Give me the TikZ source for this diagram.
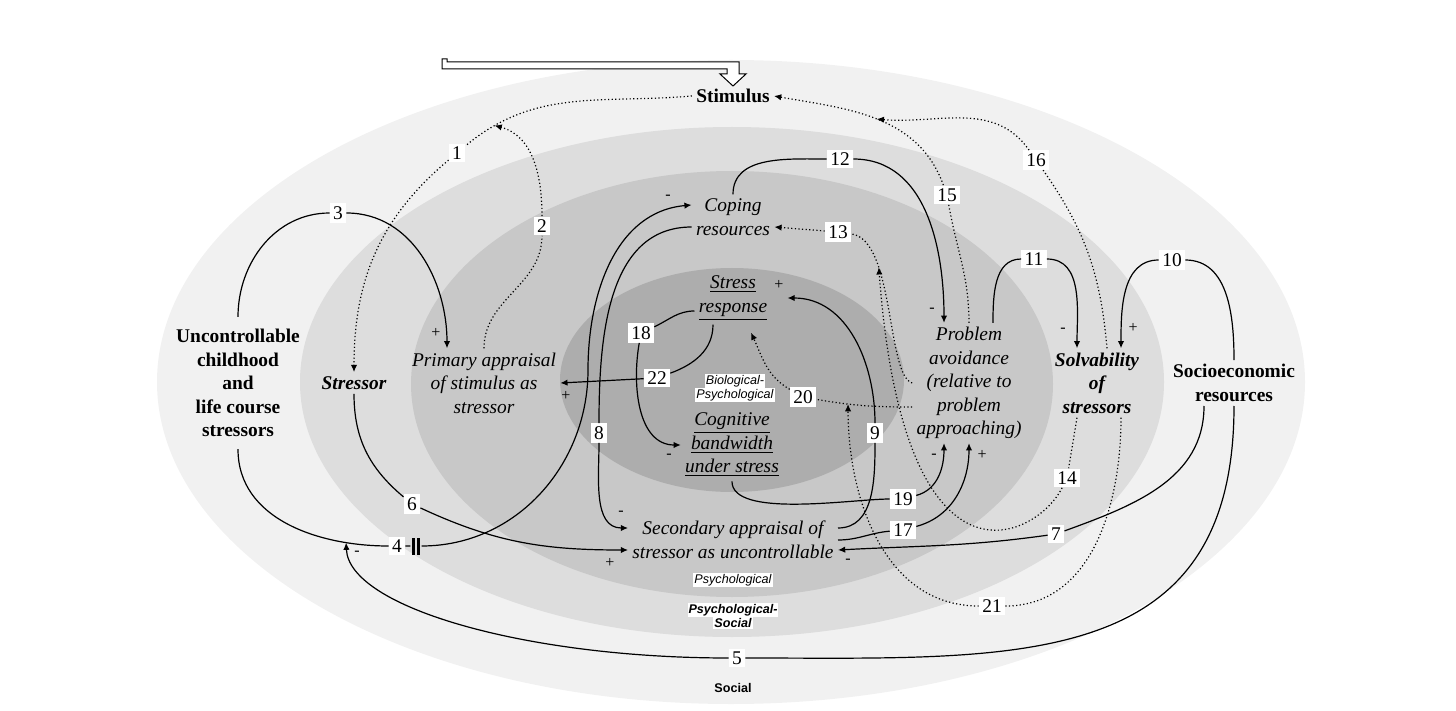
\documentclass[tikz,border=0pt]{standalone}
\usepackage{fontspec}
\setmainfont{Liberation Serif}
\setsansfont{Liberation Sans}
\usetikzlibrary{arrows.meta,positioning}

\definecolor{socialgray}{gray}{0.945}
\definecolor{psysocgray}{gray}{0.865}
\definecolor{psygray}{gray}{0.785}
\definecolor{biopsygray}{gray}{0.68}

\newcommand{\vfont}{\fontsize{9.7}{11.75}\selectfont}
\newcommand{\tagfont}{\fontsize{6.3}{7}\selectfont\sffamily}
\newcommand{\layerbox}[1]{{\setlength{\fboxsep}{0.5pt}\colorbox{white}{#1}}}

\tikzstyle{var}=[align=center,inner sep=2pt,font=\vfont\itshape]
\tikzstyle{bvar}=[align=center,inner sep=2pt,font=\vfont\bfseries]
\tikzstyle{bivar}=[align=center,inner sep=2pt,font=\vfont\bfseries\itshape]
\tikzstyle{num}=[fill=white,inner xsep=1.6pt,inner ysep=1.5pt,font=\vfont]
\tikzstyle{sgn}=[inner sep=0pt,font=\fontsize{8}{8}\selectfont]
\tikzstyle{layer}=[align=center,inner sep=0pt,font=\tagfont\itshape]
\tikzstyle{link}=[draw,line width=0.6pt,->]
\tikzstyle{infl}=[link,dash pattern=on 0.6pt off 1.2pt]

\begin{document}
\begin{tikzpicture}[x=0.5pt,y=-0.5pt,>={Latex[length=3.6pt,width=3.2pt]}]
            \useasboundingbox (0,0) rectangle (1456,711);

            % LAYERS

            \fill[socialgray] (731,382) ellipse [x radius=287pt, y radius=161pt];
            \fill[psysocgray] (732,382) ellipse [x radius=216pt, y radius=127.5pt];
            \fill[psygray]    (732,384) ellipse [x radius=160.5pt, y radius=106.5pt];
            \fill[biopsygray] (732,380) ellipse [x radius=86pt, y radius=56pt];

            \node[layer] (lbp) at (735,388) {\layerbox{Biological-}\\\layerbox{Psychological}};
            \node[layer] (lps) at (733,580) {\layerbox{Psychological}};
            \node[layer,font=\tagfont\bfseries\itshape] (lpss) at (733,616) {\layerbox{Psychological-}\\\layerbox{Social}};
            \node[layer,font=\tagfont\bfseries] (lsoc) at (733,688) {Social};

            % VARIABLES

            \node[bvar] (stim) at (733,96) {Stimulus};
            \node[bvar,inner ysep=6pt] (uc) at (238,383) {Uncontrollable\\childhood\\and\\life course\\stressors};
            \node[bivar] (str) at (354,383) {Stressor};
            \node[var] (pa) at (484,383) {Primary appraisal\\of stimulus as\\stressor};
            \node[var] (cop) at (733,217) {Coping\\resources};
            \node[var] (sr) at (733,298) {\underline{Stress}\\\underline{response}};
            \node[var] (cb) at (732,445) {\underline{Cognitive}\\\underline{bandwidth}\\\underline{under stress}};
            \node[var] (sec) at (733,540) {Secondary appraisal of\\stressor as uncontrollable};
            \node[var] (pav) at (969,383) {Problem\\avoidance\\(relative to\\problem\\approaching)};
            \node[bivar] (solv) at (1097,383) {Solvability\\of\\stressors};
            \node[bvar] (soc) at (1234,383) {Socioeconomic\\resources};

            % input arrow into the stimulus
            \draw[line width=0.5pt,fill=white] (442,59) -- (447,59) -- (447,62) -- (739,62) -- (739,74)
                -- (746,74) -- (733,86) -- (720,74) -- (727,74) -- (727,69) -- (442,69) -- cycle;

            % NUMBERS

            \node[num] (n1) at (457,153) {1};
            \node[num] (n2) at (542,226) {2};
            \node[num] (n3) at (338,213) {3};
            \node[num] (n4) at (397,546) {4};
            \node[inner sep=0.5pt] (d4) at (416,546) {\rule{1.5pt}{8.5pt}\hspace{1.2pt}\rule{1.5pt}{8.5pt}};
            \node[num] (n5) at (737,658) {5};
            \node[num] (n6) at (412,504) {6};
            \node[num] (n7) at (1056,534) {7};
            \node[num] (n8) at (599,433) {8};
            \node[num] (n9) at (875,433) {9};
            \node[num] (n10) at (1172,260) {10};
            \node[num] (n11) at (1034,259) {11};
            \node[num] (n12) at (840,159) {12};
            \node[num] (n13) at (838,232) {13};
            \node[num] (n14) at (1067,478) {14};
            \node[num] (n15) at (947,195) {15};
            \node[num] (n16) at (1036,160) {16};
            \node[num] (n17) at (903,530) {17};
            \node[num] (n18) at (641,333) {18};
            \node[num] (n19) at (903,499) {19};
            \node[num] (n20) at (803,397) {20};
            \node[num] (n21) at (992,606) {21};
            \node[num] (n22) at (657,378) {22};

            \coordinate (k4) at (588,370);

            % SOLID LINKS

            \draw[link] (uc.north) to[out=90,in=180] (n3) to[out=0,in=90] ([xshift=-18.5pt]pa.north);
            \draw[link] (uc.south) to[out=270,in=180] coordinate[pos=0.8] (c4) (n4) -- (d4)
                to[out=0,in=270] (k4) to[out=90,in=185] ([yshift=6pt]cop.west);
            \draw[link] (soc.south) to[out=270,in=0,looseness=1.25] (n5) .. controls +(-210,0) and +(3,65) .. (c4);
            \draw[link] (str.south) to[out=270,in=140] (n6) to[out=-25,in=180] ([yshift=-5pt]sec.west);
            \draw[link] ([xshift=-15pt]soc.south) to[out=270,in=20] (n7) to[out=188,in=3] ([yshift=-5pt]sec.east);
            \draw[link] ([yshift=-5pt]cop.west) to[out=180,in=90] (n8) to[out=270,in=180] ([yshift=6pt]sec.west);
            \draw[link] ([yshift=6pt]sec.east) to[out=0,in=270] (n9) to[out=90,in=0] ([xshift=8pt]sr.east);
            \draw[link] (soc.north) to[out=90,in=0] (n10) to[out=180,in=90] ([xshift=12pt]solv.north);
            \draw[link] ([xshift=12pt]pav.north) to[out=90,in=180] (n11) to[out=0,in=90] ([xshift=-10pt]solv.north);
            \draw[link] (cop.north) to[out=90,in=180] (n12) to[out=0,in=90] ([xshift=-12.5pt]pav.north);
            \draw[link] (sec.east) to[out=0,in=185] (n17) to[out=15,in=270] (pav.south);
            \draw[link] ([yshift=-6.5pt]sr.west) to[out=180,in=25] (n18) to[out=260,in=180] (cb.west);
            \draw[link] (cb.south) to[out=270,in=180,looseness=0.6] (n19) to[out=15,in=270] ([xshift=-12.5pt]pav.south);
            \draw[link] ([xshift=-10pt]sr.south) to[out=270,in=20] (n22) -- (pa.east);

            % DOTTED LINKS

            \draw[infl] (stim.west) to[out=185,in=40] coordinate[pos=0.86] (c1) (n1) to[out=220,in=90] (str.north);
            \draw[infl] (pa.north) to[out=90,in=270] (n2) to[out=90,in=-15] (c1);
            \draw[infl] (pav.west) .. controls +(-26,-8) and +(57,8) .. (n13) coordinate[pos=0.7] (c13)
                -- ([yshift=-5pt]cop.east);
            \draw[infl] ([xshift=-10pt]solv.south) -- (n14) .. controls +(-30,60) and +(25,340) .. (c13);
            \draw[infl] (pav.north) to[out=90,in=280] (n15) to[out=110,in=-10] coordinate[pos=0.5] (c16) (stim.east);
            \draw[infl] ([xshift=5pt]solv.north) to[out=95,in=-55] (n16) to[out=125,in=-5] (c16);
            \draw[infl] ([yshift=-12pt]pav.west) to[out=180,in=-10] coordinate[pos=0.68] (c20) (n20)
                to[out=150,in=-65] ([xshift=9pt,yshift=-4pt]sr.south);
            \draw[infl] ([xshift=12pt]solv.south) to[out=270,in=0] (n21) to[out=180,in=270] (c20);

            % SIGNS

            \node[sgn] (s3) at (436,333) {+};
            \node[sgn] (s4) at (668,197) {-};
            \node[sgn] (s5) at (357,553) {-};
            \node[sgn] (s6) at (610,563) {+};
            \node[sgn] (s7) at (848,561) {-};
            \node[sgn] (s8) at (621,513) {-};
            \node[sgn] (s9) at (779,285) {+};
            \node[sgn] (s10) at (1133,328) {+};
            \node[sgn] (s11) at (1063,330) {-};
            \node[sgn] (s12) at (932,310) {-};
            \node[sgn] (s17) at (982,455) {+};
            \node[sgn] (s18) at (669,456) {-};
            \node[sgn] (s19) at (934,456) {-};
            \node[sgn] (s22) at (566,396) {+};

\end{tikzpicture}
\end{document}
